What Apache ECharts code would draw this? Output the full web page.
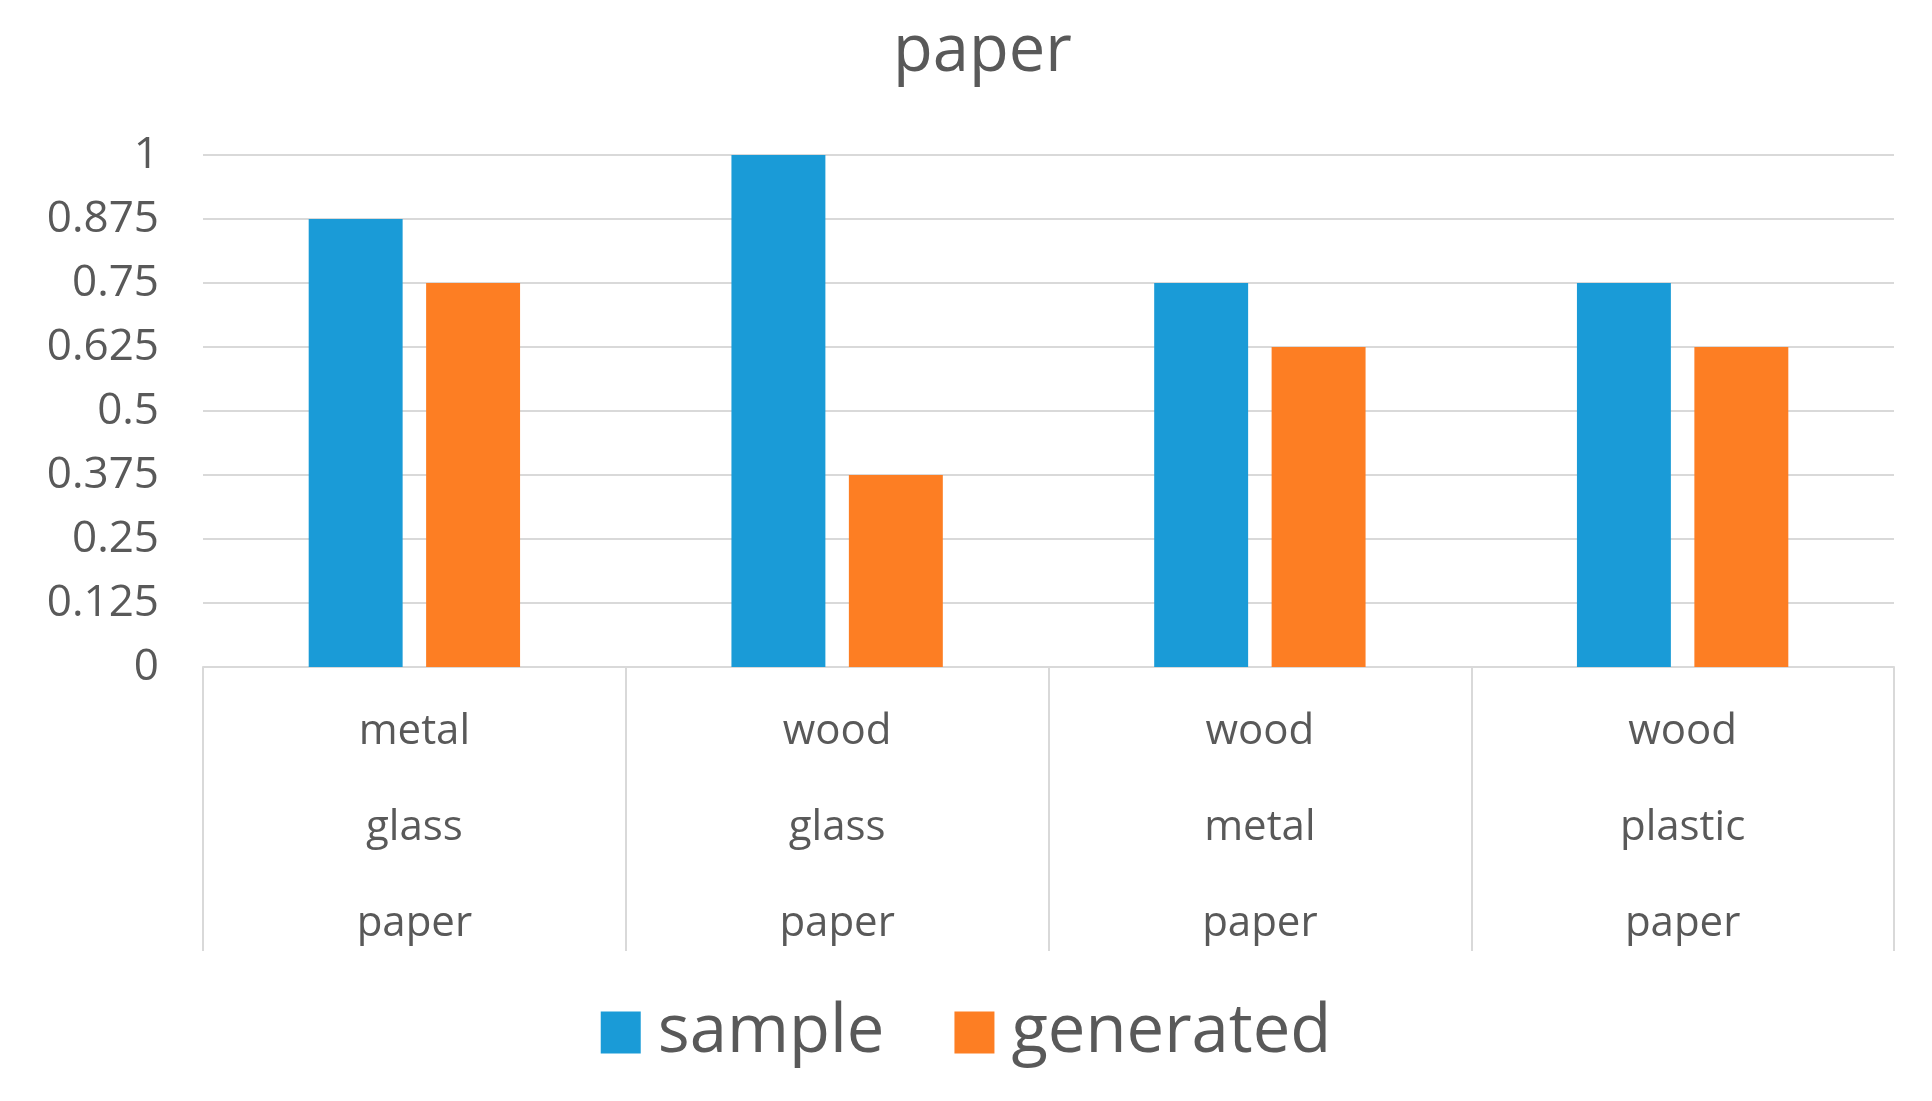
<!DOCTYPE html>
<html>
<head>
<meta charset="utf-8">
<script src="https://cdn.jsdelivr.net/npm/echarts@6/dist/echarts.min.js"></script>
<style>
  html, body { margin: 0; padding: 0; background: #fff; }
  #chart { width: 1932px; height: 1101px; }
</style>
</head>
<body>
<div id="chart"></div>
<script>
    // data
    const categories = ['metal\nglass\npaper', 'wood\nglass\npaper', 'wood\nmetal\npaper', 'wood\nplastic\npaper'];
    const sampleValues = [0.875, 1, 0.75, 0.75];
    const generatedValues = [0.75, 0.375, 0.625, 0.625];
    const seriesNames = ['sample', 'generated'];

    const textColor = '#595959';
    const lineColor = '#d9d9d9';
    const font = 'Open Sans';

    let myChart = echarts.init(document.getElementById('chart'));
    myChart.setOption({
        animation: false,
        color: ['#1a9bd7', '#fd7e23'],
        title: {
            text: 'paper',
            left: 893,
            top: 15,
            padding: [5, 0, 5, 0],
            textStyle: {
                fontFamily: font,
                fontSize: 65,
                fontWeight: 'normal',
                color: textColor
            }
        },
        legend: {
            data: seriesNames,
            left: 'center',
            top: 994,
            itemWidth: 40,
            itemHeight: 42,
            itemGap: 70,
            icon: 'rect',
            textStyle: {
                fontFamily: font,
                fontSize: 67,
                color: textColor,
                padding: [0, 0, 0, 12]
            }
        },
        grid: {
            left: 203,
            right: 38,
            top: 155,
            bottom: 434
        },
        xAxis: {
            type: 'category',
            data: categories,
            axisLine: { lineStyle: { color: lineColor, width: 2 } },
            axisTick: { show: true, length: 284, lineStyle: { color: lineColor, width: 2 } },
            axisLabel: {
                margin: 17,
                fontFamily: font,
                fontSize: 42,
                lineHeight: 96,
                color: textColor
            }
        },
        yAxis: {
            type: 'value',
            min: 0,
            max: 1,
            interval: 0.125,
            axisLine: { show: false },
            axisTick: { show: false },
            splitLine: { lineStyle: { color: lineColor, width: 2 } },
            axisLabel: {
                margin: 44,
                fontFamily: font,
                fontSize: 44,
                color: textColor
            }
        },
        series: [
            {
                name: seriesNames[0],
                type: 'bar',
                data: sampleValues,
                barGap: '25%',
                barCategoryGap: '50%'
            },
            {
                name: seriesNames[1],
                type: 'bar',
                data: generatedValues
            }
        ]
    });
</script>
</body>
</html>
